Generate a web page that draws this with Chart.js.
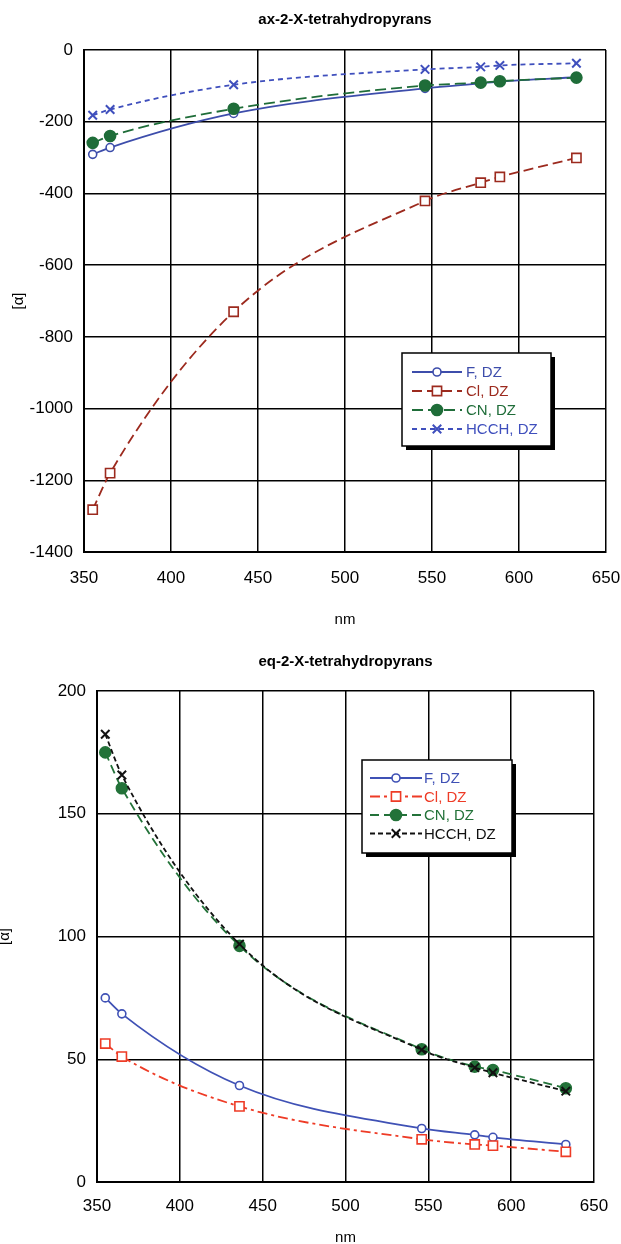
<!DOCTYPE html>
<html>
<head>
<meta charset="utf-8">
<script src="https://cdn.jsdelivr.net/npm/chart.js@4.4.0/dist/chart.umd.min.js"></script>
<style>
    html, body { margin: 0; padding: 0; background: #fff; overflow: hidden; }
    body { width: 621px; height: 1244px; position: relative; }
    canvas { position: absolute; left: 0; }
    #axChart { top: 0; }
    #eqChart { top: 640px; }
</style>
</head>
<body>
<canvas id="axChart" width="621" height="640"></canvas>
<canvas id="eqChart" width="621" height="620"></canvas>
<script>
// wavelengths (nm) shared by both panels
const wavelengths = [355, 365, 436, 546, 578, 589, 633];

// ax-2-X-tetrahydropyrans, [alpha]
const axF = [-291, -272, -177, -107, -93, -88, -76];
const axCl = [-1282, -1180, -730, -421, -370, -354, -301];
const axCN = [-259, -240, -164, -99, -91, -87, -77];
const axHCCH = [-182, -166, -97, -54, -47, -43, -37];

// eq-2-X-tetrahydropyrans, [alpha]
const eqF = [75, 68.5, 39.3, 21.8, 19.2, 18.2, 15.3];
const eqCl = [56.4, 51.1, 30.8, 17.4, 15.3, 14.8, 12.3];
const eqCN = [175, 160.4, 96.2, 54.1, 47, 45.6, 38.2];
const eqHCCH = [182.4, 165.8, 96.9, 53.8, 46.6, 44.5, 37];

const seriesNames = ['F, DZ', 'Cl, DZ', 'CN, DZ', 'HCCH, DZ'];

const xTicks = [350, 400, 450, 500, 550, 600, 650];
const axYTicks = [0, -200, -400, -600, -800, -1000, -1200, -1400];
const eqYTicks = [0, 50, 100, 150, 200];

const FONT = '"Liberation Sans", Arial, sans-serif';
Chart.defaults.font.family = FONT;
Chart.defaults.color = '#000';

// legend drawn as a framed box inside the plot, like the original
const boxLegend = {
    id: 'boxLegend',
    afterDraw(chart, args, opts) {
        const ctx = chart.ctx;
        const { x, y, width, height, firstRow, rowGap, lineStart, lineEnd, textX } = opts;
        ctx.save();
        ctx.fillStyle = '#000';
        ctx.fillRect(x + 4, y + 4, width, height);
        ctx.fillStyle = '#fff';
        ctx.fillRect(x, y, width, height);
        ctx.lineWidth = 1.5;
        ctx.strokeStyle = '#000';
        ctx.strokeRect(x, y, width, height);

        chart.data.datasets.forEach((ds, i) => {
            const ry = y + firstRow + i * rowGap;
            ctx.strokeStyle = ds.borderColor;
            ctx.lineWidth = ds.borderWidth;
            ctx.setLineDash(ds.borderDash || []);
            ctx.beginPath();
            ctx.moveTo(x + lineStart, ry);
            ctx.lineTo(x + lineEnd, ry);
            ctx.stroke();
            ctx.setLineDash([]);

            ctx.fillStyle = ds.pointBackgroundColor;
            ctx.strokeStyle = ds.borderColor;
            ctx.lineWidth = ds.pointBorderWidth;
            Chart.helpers.drawPoint(ctx, {
                pointStyle: ds.pointStyle,
                radius: ds.pointRadius,
                borderWidth: ds.pointBorderWidth,
                rotation: 0
            }, x + (lineStart + lineEnd) / 2, ry);

            ctx.fillStyle = ds.borderColor;
            ctx.font = '15px ' + FONT;
            ctx.textBaseline = 'middle';
            ctx.textAlign = 'left';
            ctx.fillText(ds.label, x + textX, ry + 1);
        });
        ctx.restore();
    }
};

function toPoints(ys) {
    return wavelengths.map((w, i) => ({ x: w, y: ys[i] }));
}

// order: lower value is painted on top
function makeSeries(label, ys, color, dash, style, radius, filled, order) {
    return {
        label: label,
        data: toPoints(ys),
        order: order,
        borderColor: color,
        borderWidth: 1.8,
        borderDash: dash,
        pointStyle: style,
        pointRadius: radius,
        pointBorderWidth: style === 'crossRot' ? 2 : 1.6,
        pointBackgroundColor: filled ? color : '#fff',
        pointBorderColor: color,
        cubicInterpolationMode: 'monotone',
        fill: false
    };
}

function makeChart(id, cfg) {
    return new Chart(document.getElementById(id), {
        type: 'line',
        data: { datasets: cfg.datasets },
        options: {
            responsive: false,
            animation: false,
            devicePixelRatio: 1,
            layout: { padding: { left: 0, right: cfg.rightPad, top: 0, bottom: 0 } },
            plugins: {
                legend: { display: false },
                tooltip: { enabled: false },
                title: {
                    display: true,
                    text: cfg.title,
                    fullSize: false,
                    font: { size: 15, weight: 'bold' },
                    padding: cfg.titlePad
                },
                boxLegend: cfg.legend
            },
            scales: {
                x: {
                    type: 'linear',
                    min: xTicks[0],
                    max: xTicks[xTicks.length - 1],
                    afterBuildTicks: (s) => { s.ticks = xTicks.map((v) => ({ value: v })); },
                    afterFit: (s) => {
                        s.height = cfg.xHeight;
                        s.paddingLeft = 0;
                        s.paddingRight = 0;
                    },
                    grid: { color: '#000', lineWidth: 1.5, drawTicks: false },
                    border: { color: '#000', width: 2 },
                    ticks: { font: { size: 17 }, padding: cfg.xTickPad, maxRotation: 0, callback: (v) => '' + v },
                    title: { display: true, text: 'nm', font: { size: 15 }, padding: { top: 0, bottom: cfg.nmPad } }
                },
                y: {
                    type: 'linear',
                    min: cfg.yTicks.reduce((a, b) => Math.min(a, b)),
                    max: cfg.yTicks.reduce((a, b) => Math.max(a, b)),
                    afterBuildTicks: (s) => { s.ticks = cfg.yTicks.slice().sort((a, b) => a - b).map((v) => ({ value: v })); },
                    afterFit: (s) => { s.width = cfg.yWidth; },
                    grid: { color: '#000', lineWidth: 1.5, drawTicks: false },
                    border: { color: '#000', width: 2 },
                    ticks: { font: { size: 17 }, padding: 11, callback: (v) => '' + v },
                    title: { display: true, text: '[α]', font: { size: 15 }, padding: { top: cfg.alphaPad, bottom: 0 } }
                }
            }
        },
        plugins: [boxLegend]
    });
}

document.addEventListener('DOMContentLoaded', function () {
    makeChart('axChart', {
        title: 'ax-2-X-tetrahydropyrans',
        titlePad: { top: 11, bottom: 21 },
        rightPad: 15,
        yWidth: 84,
        xHeight: 88,
        xTickPad: 16,
        nmPad: 11,
        alphaPad: 10,
        yTicks: axYTicks,
        datasets: [
            makeSeries(seriesNames[0], axF, '#3d4dab', [], 'circle', 4, false, 3),
            makeSeries(seriesNames[1], axCl, '#9c2a1e', [10, 5], 'rect', 6.5, false, 2),
            makeSeries(seriesNames[2], axCN, '#1f6d39', [11, 5], 'circle', 5.5, true, 1),
            makeSeries(seriesNames[3], axHCCH, '#3f4fbd', [5, 4], 'crossRot', 6, false, 0)
        ],
        legend: { x: 402, y: 353, width: 149, height: 93, firstRow: 19, rowGap: 19, lineStart: 10, lineEnd: 60, textX: 64 }
    });

    makeChart('eqChart', {
        title: 'eq-2-X-tetrahydropyrans',
        titlePad: { top: 13, bottom: 20 },
        rightPad: 27,
        yWidth: 97,
        xHeight: 78,
        xTickPad: 14,
        nmPad: 13,
        alphaPad: -4,
        yTicks: eqYTicks,
        datasets: [
            makeSeries(seriesNames[0], eqF, '#3f51b5', [], 'circle', 4, false, 3),
            makeSeries(seriesNames[1], eqCl, '#ee3b26', [10, 4, 3, 4], 'rect', 6.5, false, 2),
            makeSeries(seriesNames[2], eqCN, '#237239', [9, 5], 'circle', 5.5, true, 1),
            makeSeries(seriesNames[3], eqHCCH, '#111', [5, 3], 'crossRot', 6, false, 0)
        ],
        legend: { x: 362, y: 120, width: 150, height: 93, firstRow: 18, rowGap: 18.5, lineStart: 8, lineEnd: 60, textX: 62 }
    });
});
</script>
</body>
</html>
